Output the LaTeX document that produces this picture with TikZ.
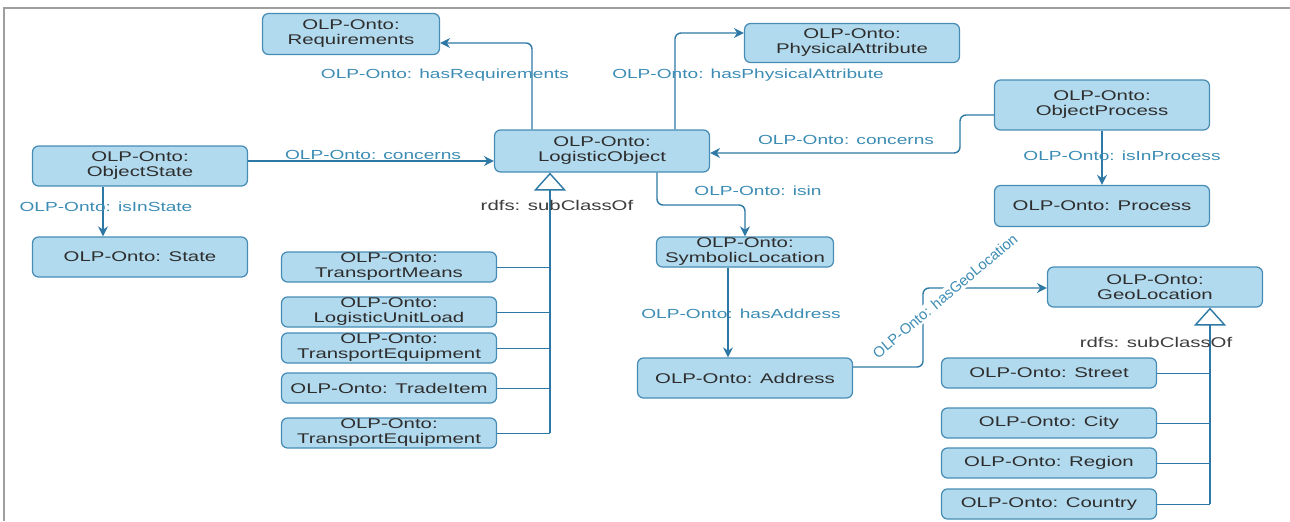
\documentclass[tikz,border=0pt]{standalone}
\usepackage{fontspec}
\setmainfont{Liberation Sans}[FakeStretch=1.45]
\newfontfamily\plainsans{Liberation Sans}
\usepackage{tikz}
\usetikzlibrary{arrows.meta,positioning,calc}
\usepackage{xcolor}

\definecolor{clsfill}{RGB}{178,218,238}
\definecolor{clsline}{RGB}{70,140,180}
\definecolor{clstext}{RGB}{45,45,45}
\definecolor{relline}{RGB}{45,120,165}
\definecolor{reltext}{RGB}{60,140,180}
\definecolor{subtext}{RGB}{60,60,60}
\newcommand\clsfont{\fontsize{8}{8.5}\selectfont}
\newcommand\relfont{\fontsize{7.5}{8}\selectfont}
\newcommand\subfont{\fontsize{8}{8.5}\selectfont}

\begin{document}
\begin{tikzpicture}[
  x=0.02cm, y=-0.02cm,
  cls/.style={rectangle, draw=clsline, fill=clsfill, rounded corners=1.2mm,
              line width=0.7pt, text=clstext, font=\clsfont, align=center,
              minimum width=4.3cm, minimum height=0.8cm, inner sep=0.5pt},
  flat/.style={cls, minimum height=0.6cm},
  rel/.style={-{Stealth[length=2mm,width=2mm]}, draw=relline, line width=0.8pt,
              rounded corners=1.2mm},
  sub/.style={-{Triangle[open,length=3.6mm,width=6.4mm]}, draw=relline, line width=0.8pt},
  branch/.style={draw=relline, line width=0.5pt},
  rellabel/.style={font=\relfont, text=reltext, inner sep=1pt},
  sublabel/.style={font=\subfont, text=subtext, inner sep=1pt},
  frame/.style={draw=gray!75, line width=0.8pt}
]
  \useasboundingbox (0,0) rectangle (1290,521);
  \draw[frame] (4,521) -- (4,8) -- (1290,8);

  % Classes
  \node[cls, minimum width=3.54cm, minimum height=0.82cm] (req) at (351,34) {OLP-Onto:\\Requirements};
  \node[cls, minimum height=0.78cm] (phys) at (852,43) {OLP-Onto:\\PhysicalAttribute};
  \node[cls, minimum height=1cm] (oproc) at (1102,105) {OLP-Onto:\\ObjectProcess};
  \node[cls, minimum height=0.82cm] (proc) at (1102,206) {OLP-Onto: Process};
  \node[cls, minimum height=0.84cm] (lobj) at (602,151) {OLP-Onto:\\LogisticObject};
  \node[cls] (ostate) at (140,166) {OLP-Onto:\\ObjectState};
  \node[cls] (state) at (140,257) {OLP-Onto: State};
  \node[flat, minimum width=3.54cm] (symloc) at (745,252) {OLP-Onto:\\SymbolicLocation};
  \node[cls] (addr) at (745,378) {OLP-Onto: Address};
  \node[cls] (geo) at (1155,287) {OLP-Onto:\\GeoLocation};

  % Subclasses of LogisticObject
  \node[flat] (tmeans) at (389,267) {OLP-Onto:\\TransportMeans};
  \node[flat] (lul)    at (389,312) {OLP-Onto:\\LogisticUnitLoad};
  \node[flat] (teq)    at (389,348) {OLP-Onto:\\TransportEquipment};
  \node[flat] (trade)  at (389,388) {OLP-Onto: TradeItem};
  \node[flat] (teqb)   at (389,433) {OLP-Onto:\\TransportEquipment};

  % Subclasses of GeoLocation
  \node[flat] (street)  at (1049,373) {OLP-Onto: Street};
  \node[flat] (city)    at (1049,423) {OLP-Onto: City};
  \node[flat] (region)  at (1049,463) {OLP-Onto: Region};
  \node[flat] (country) at (1049,504) {OLP-Onto: Country};

  % Bend points
  \coordinate (reqbend)  at (532,43);
  \coordinate (physbend) at (675,33);
  \coordinate (cbend)    at (960,153);
  \coordinate (isinbend) at (745,205);
  \coordinate (geobend)  at (923,288);
  \coordinate (ljoin)    at (550,433);
  \coordinate (rjoin)    at (1210,504);

  % Object properties
  \draw[rel] (lobj.north -| reqbend) |- (req.east |- reqbend);
  \draw[rel] (lobj.north -| physbend) |- (phys.west |- physbend);
  \draw[rel] (ostate.east |- 0,161) -- (lobj.west |- 0,161);
  \draw[rel] (oproc.west |- 0,115) -| (cbend) -- (lobj.east |- cbend);
  \draw[rel] (ostate.south -| 103,0) -- (state.north -| 103,0);
  \draw[rel] (oproc.south) -- (proc.north);
  \draw[rel] (lobj.south -| 657,0) |- (isinbend) -- (symloc.north);
  \draw[rel] (symloc.south -| 728,0) -- (addr.north -| 728,0);
  \draw[rel] (addr.east |- 0,367) -| (geobend) -- (geo.west |- geobend);

  % rdfs:subClassOf
  \draw[sub] (ljoin) -- (lobj.south -| ljoin);
  \foreach \n in {tmeans,lul,teq,trade,teqb}
    \draw[branch] (\n.east) -- (\n.east -| ljoin);
  \draw[sub] (rjoin) -- (geo.south -| rjoin);
  \foreach \n in {street,city,region,country}
    \draw[branch] (\n.east) -- (\n.east -| rjoin);

  % Labels
  \node[rellabel] (lreq)   at (445,75)   {OLP-Onto: hasRequirements};
  \node[rellabel] (lphys)  at (748,75)   {OLP-Onto: hasPhysicalAttribute};
  \node[rellabel] (lconc)  at (373,155)  {OLP-Onto: concerns};
  \node[rellabel] (lconcb) at (846,140)  {OLP-Onto: concerns};
  \node[rellabel] (lstate) at (106,207)  {OLP-Onto: isInState};
  \node[rellabel] (lproc)  at (1122,156) {OLP-Onto: isInProcess};
  \node[rellabel] (lisin)  at (758,191)  {OLP-Onto: isin};
  \node[rellabel] (laddr)  at (741,314)  {OLP-Onto: hasAddress};
  \node[rellabel, font={\plainsans\fontsize{8.4}{9}\selectfont}, fill=white, rotate=40] (lgeo) at (945,296) {OLP-Onto: hasGeoLocation};
  \node[sublabel] (lsub)  at (557,205)  {rdfs: subClassOf};
  \node[sublabel] (lsubb) at (1156,342) {rdfs: subClassOf};
\end{tikzpicture}
\end{document}
